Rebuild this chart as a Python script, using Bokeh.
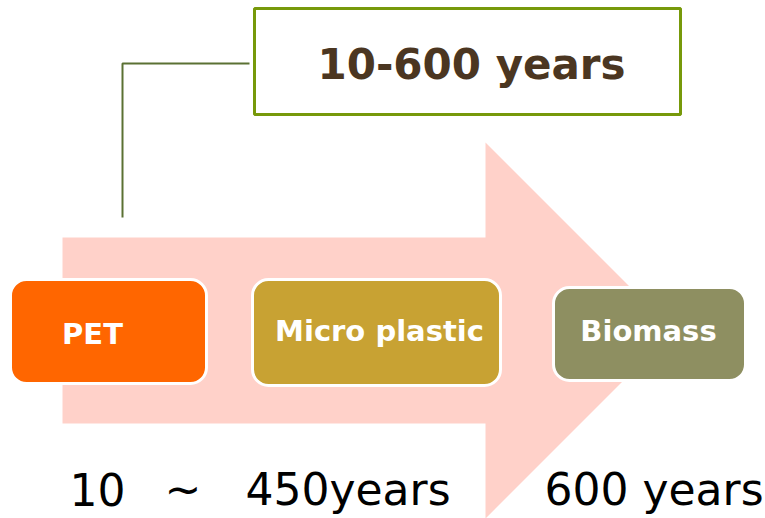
from bokeh.plotting import figure
from bokeh.models import Range1d
from bokeh.core.properties import value
from bokeh.embed import file_html
from bokeh.resources import INLINE

# Diagram content
stage_labels = ["PET", "Micro plastic", "Biomass"]
stage_colors = ["#FF6600", "#C8A233", "#8E8F61"]
summary_label = "10-600 years"
bottom_labels = ["10", "~", "450years", "600 years"]

# layout (image pixel coordinates)
box_left = [10, 252, 553]
box_right = [206, 500, 745]
box_top = [279, 279, 287]
box_bottom = [383, 385, 380]
label_x = [92, 379, 648]
label_y = [333, 330, 330]

arrow_x = [62, 485, 485, 673, 485, 485, 62]
arrow_y = [237, 237, 142, 330, 518, 423, 423]

bottom_x = [69, 164, 245, 544]
bottom_y = [489, 489, 489, 489]

FONT = value("DejaVu Sans")

p = figure(width=765, height=518, x_range=Range1d(0, 765), y_range=Range1d(518, 0),
           output_backend="svg", toolbar_location=None, min_border=0)
p.axis.visible = False
p.grid.visible = False
p.outline_line_color = None
p.background_fill_color = "white"

# big pink arrow
p.patch(arrow_x, arrow_y, fill_color="#FFD1C9", line_color=None)

# connector line
p.line([122, 122, 249], [217, 63, 63], line_color="#5B7133", line_width=2)

# summary box
p.quad(left=[254], right=[680], top=[8], bottom=[114], fill_color="white",
       line_color="#77990A", line_width=3)
p.text(x=[471], y=[64], text=[summary_label], text_font=FONT, text_font_style="bold",
       text_font_size="42px", text_color="#4B3621", text_align="center",
       text_baseline="alphabetic")

# stage boxes
p.quad(left=box_left, right=box_right, top=box_top, bottom=box_bottom,
       fill_color=stage_colors, line_color="white", line_width=3, border_radius=16)
p.text(x=label_x, y=label_y, text=stage_labels, text_font=FONT, text_font_style="bold",
       text_font_size="29px", text_color="white", text_align="center",
       text_baseline="alphabetic")

# bottom durations
p.text(x=bottom_x, y=bottom_y, text=bottom_labels, text_font=FONT,
       text_font_size="44px", text_color="black", text_align="left",
       text_baseline="alphabetic")

open("out.html", "w").write(file_html(p, INLINE))
